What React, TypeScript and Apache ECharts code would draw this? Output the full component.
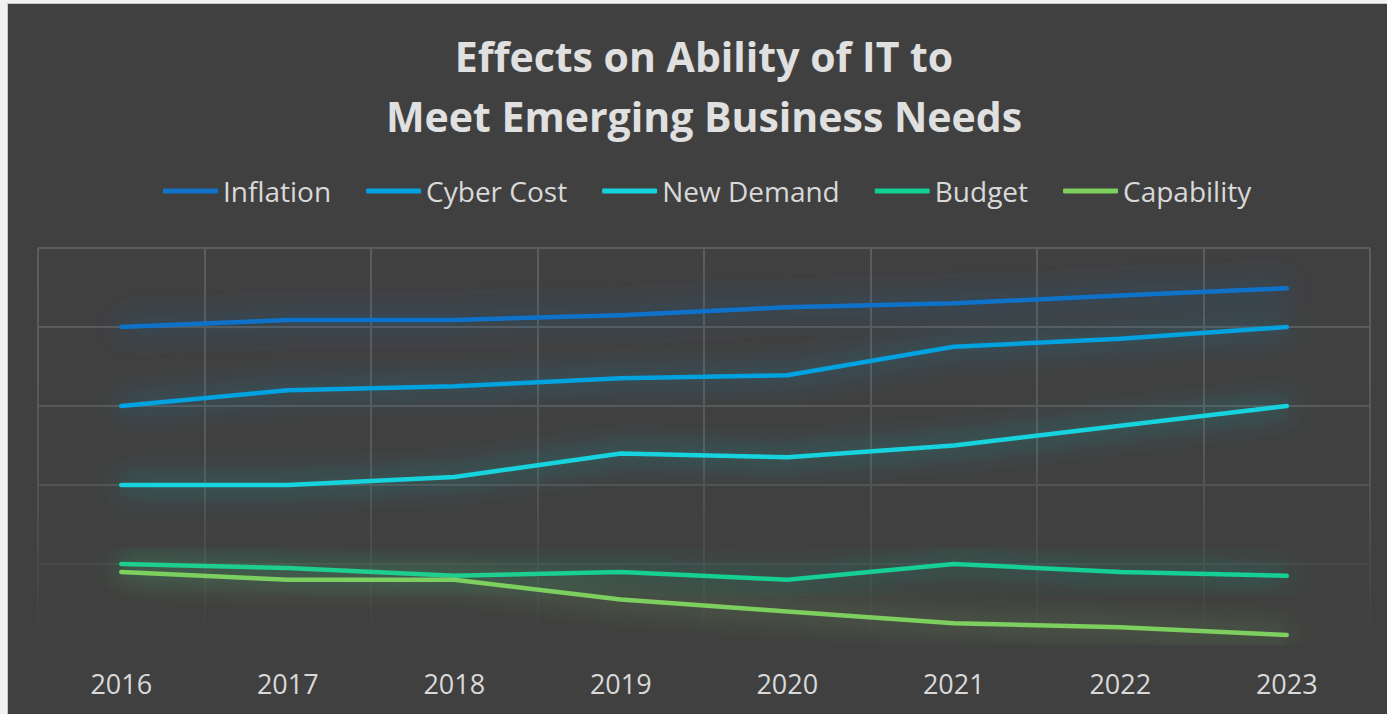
import React, { useEffect, useRef } from "react";
import * as echarts from "echarts";

const years = ["2016", "2017", "2018", "2019", "2020", "2021", "2022", "2023"];
const inflation = [4.0, 4.09, 4.09, 4.15, 4.25, 4.3, 4.4, 4.49];
const cyberCost = [3.0, 3.2, 3.25, 3.35, 3.39, 3.75, 3.85, 4.0];
const newDemand = [2.0, 2.0, 2.1, 2.4, 2.35, 2.5, 2.75, 3.0];
const budget = [1.0, 0.95, 0.85, 0.9, 0.8, 1.0, 0.9, 0.85];
const capability = [0.9, 0.8, 0.8, 0.55, 0.4, 0.25, 0.2, 0.1];

const seriesNames = ["Inflation", "Cyber Cost", "New Demand", "Budget", "Capability"];
const seriesColors = ["#1172CA", "#00A2E0", "#14D3DD", "#12CF94", "#7DCF5E"];
const seriesData = [inflation, cyberCost, newDemand, budget, capability];

const FONT = "'Open Sans', sans-serif";

export default function App() {
  const ref = useRef<HTMLDivElement>(null);
  useEffect(() => {
    if (!ref.current) return;
    const chart = echarts.init(ref.current, undefined, { renderer: "svg" });
    const gridGrad = {
      type: "linear",
      x: 0,
      y: 244,
      x2: 0,
      y2: 639,
      global: true,
      colorStops: [
        { offset: 0, color: "#5c5c5c" },
        { offset: 0.5, color: "#585858" },
        { offset: 1, color: "#404040" },
      ],
    };
    chart.setOption({
      animation: false,
      backgroundColor: "#404040",
      graphic: [
        {
          type: "text",
          x: 696,
          y: 52,
          style: {
            text: "Effects on Ability of IT to",
            fill: "#e0e0e0",
            font: `bold 41px ${FONT}`,
            textAlign: "center",
            textVerticalAlign: "middle",
          },
        },
        {
          type: "text",
          x: 696,
          y: 112,
          style: {
            text: "Meet Emerging Business Needs",
            fill: "#e0e0e0",
            font: `bold 41px ${FONT}`,
            textAlign: "center",
            textVerticalAlign: "middle",
          },
        },
      ],
      legend: {
        data: seriesNames,
        left: 150,
        top: 168,
        icon: "roundRect",
        itemWidth: 55,
        itemHeight: 5,
        itemGap: 35,
        textStyle: { color: "#d9d9d9", fontSize: 28, fontFamily: FONT },
      },
      grid: { left: 30, right: 17, top: 244, bottom: 71, containLabel: false },
      xAxis: {
        type: "category",
        data: years,
        boundaryGap: true,
        axisLine: { show: false },
        axisTick: { show: false },
        axisLabel: { color: "#d9d9d9", fontSize: 27, fontFamily: FONT, margin: 27 },
        splitLine: { show: true, lineStyle: { color: gridGrad, width: 2 } },
      },
      yAxis: {
        type: "value",
        min: 0,
        max: 5,
        interval: 1,
        axisLabel: { show: false },
        axisLine: { show: false },
        axisTick: { show: false },
        splitLine: { show: true, lineStyle: { color: gridGrad, width: 2 } },
      },
      series: seriesNames.map((name, i) => ({
        name,
        type: "line",
        data: seriesData[i],
        showSymbol: false,
        symbol: "none",
        color: seriesColors[i],
        lineStyle: {
          width: 4.5,
          color: seriesColors[i],
          cap: "round",
          join: "round",
          shadowBlur: 28,
          shadowColor: seriesColors[i] + "cc",
        },
      })),
    });
    return () => chart.dispose();
  }, []);
  return (
    <div style={{ position: "fixed", left: 0, top: 0, width: 1387, height: 714, background: "#f2f2f2" }}>
      <div
        style={{
          position: "absolute",
          left: 7,
          top: 3,
          width: 1380,
          height: 711,
          borderLeft: "1px solid #c8c8c8",
          borderTop: "1px solid #c8c8c8",
        }}
      >
        <div ref={ref} style={{ width: 1379, height: 710 }} />
      </div>
    </div>
  );
}
